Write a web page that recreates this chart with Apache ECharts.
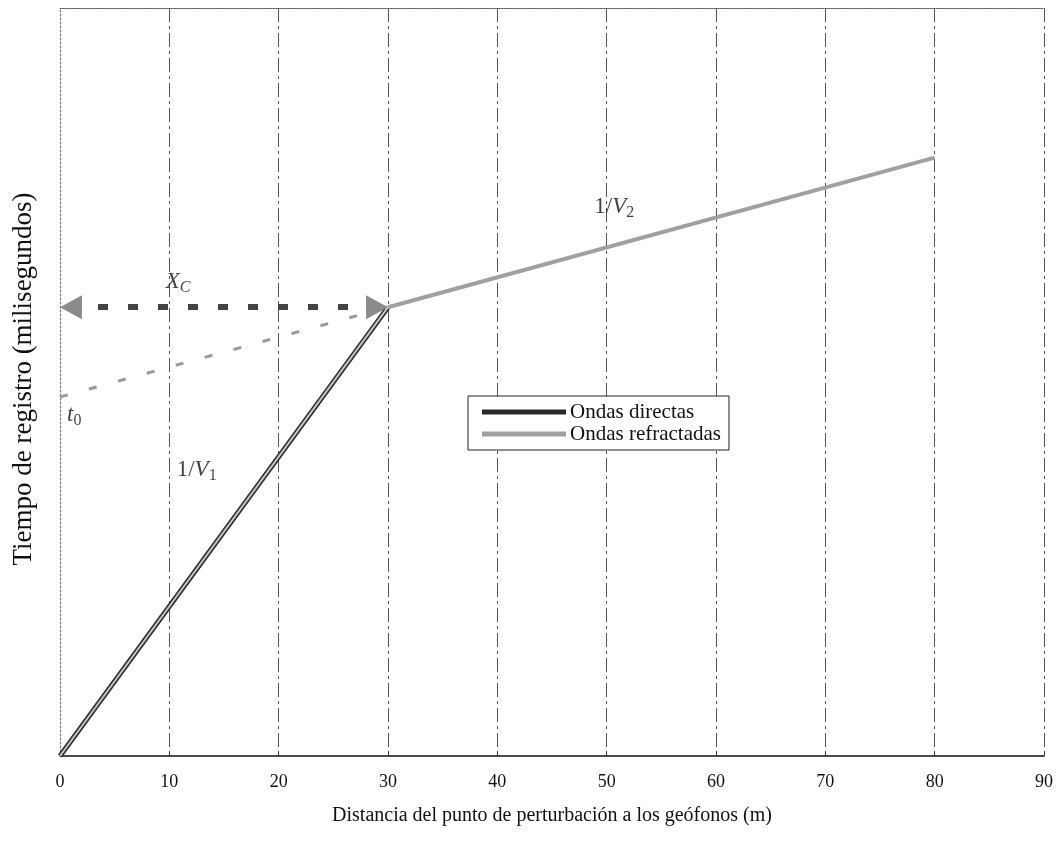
<!DOCTYPE html>
<html>
<head>
<meta charset="utf-8">
<script src="https://cdn.jsdelivr.net/npm/echarts@6/dist/echarts.min.js"></script>
<style>
  html, body { margin: 0; padding: 0; background: #fff; }
  #chart { width: 1056px; height: 849px; }
</style>
</head>
<body>
<div id="chart"></div>
<script>
// Travel-time curve for seismic refraction: direct and refracted arrivals
const xTicks = [0, 10, 20, 30, 40, 50, 60, 70, 80, 90];

// Direct wave: t = x / V1
const directX = [0, 30];
const directT = [0, 60];

// Refracted (head) wave beyond the crossover distance
const refractedX = [30, 80];
const refractedT = [60, 80];

// Back-extension of the refracted branch to the intercept time t0
const interceptX = [0, 30];
const interceptT = [48, 60];

// Crossover distance Xc marked at the crossover time
const crossoverX = [0, 30];
const crossoverT = 60;

// Annotation labels: [x, t, kind]
const annotations = [
  [10.8, 63.4, 'xc'],
  [1.3, 45.6, 't0'],
  [12.5, 38.3, 'v1'],
  [50.7, 73.4, 'v2']
];

const serif = '"Liberation Serif", "DejaVu Serif", serif';

const labelText = {
  xc: '{it|X}{subit|C}',
  t0: '{it|t}{sub|0}',
  v1: '{n|1/}{it|V}{sub|1}',
  v2: '{n|1/}{it|V}{sub|2}'
};

// Arrowheads are centred this far (in metres) inside the Xc span so their tips touch its ends
const arrowInset = 1.0;

const chart = echarts.init(document.getElementById('chart'), null, { renderer: 'canvas' });

const pairs = (xs, ys) => xs.map((x, i) => [x, ys[i]]);

chart.setOption({
  animation: false,
  backgroundColor: '#ffffff',
  grid: { left: 60, right: 11, top: 8, bottom: 93 },
  xAxis: [{
    type: 'value',
    min: xTicks[0],
    max: xTicks[xTicks.length - 1],
    interval: 10,
    name: 'Distancia del punto de perturbación a los geófonos (m)',
    nameLocation: 'middle',
    nameGap: 50,
    nameTextStyle: { fontFamily: serif, fontSize: 20, color: '#111' },
    axisLine: { show: true, lineStyle: { color: '#111', width: 1.5 } },
    axisTick: { show: true, length: 5, inside: true, lineStyle: { color: '#333' } },
    axisLabel: { fontFamily: serif, fontSize: 18, color: '#111', margin: 17 },
    splitLine: {
      show: true,
      showMinLine: false,
      lineStyle: { color: '#555', width: 1, type: [14, 4, 3, 4] }
    }
  }, {
    type: 'value',
    position: 'top',
    min: 0, max: 90,
    axisLine: { show: true, lineStyle: { color: '#666', width: 1.2, type: [2, 1] } },
    axisTick: { show: false },
    axisLabel: { show: false },
    splitLine: { show: false }
  }],
  yAxis: {
    type: 'value',
    min: 0,
    max: 100,
    axisLine: { show: true, lineStyle: { color: '#777', width: 1.2, type: [2, 2] } },
    axisTick: { show: false },
    axisLabel: { show: false },
    splitLine: { show: false }
  },
  legend: {
    left: 468,
    top: 396,
    orient: 'vertical',
    data: [
      { name: 'Ondas directas', icon: 'rect' },
      { name: 'Ondas refractadas', icon: 'rect' }
    ],
    backgroundColor: '#fff',
    borderColor: '#222',
    borderWidth: 1,
    borderRadius: 0,
    padding: [5, 8, 5, 14],
    itemGap: 0,
    itemWidth: 84,
    itemHeight: 5,
    textStyle: { fontFamily: serif, fontSize: 21, color: '#111', lineHeight: 22, padding: [0, 0, 0, -1] }
  },
  series: [
    {
      name: 'Ondas refractadas (t0)',
      type: 'line',
      data: pairs(interceptX, interceptT),
      symbol: 'none',
      lineStyle: { color: '#9a9a9a', width: 3, type: [8, 22] },
      z: 2
    },
    {
      name: 'Xc',
      type: 'line',
      data: [],
      markLine: {
        silent: true,
        symbol: ['none', 'none'],
        label: { show: false },
        data: [
          [
            { coord: [crossoverX[0], crossoverT] },
            { coord: [crossoverX[1], crossoverT] }
          ].map(p => Object.assign(p, {
            lineStyle: { color: '#444', width: 6, type: [10, 20], dashOffset: -8 }
          })),
          [
            { coord: [crossoverX[0] + arrowInset, crossoverT], symbol: 'triangle', symbolSize: [24, 22] },
            { coord: [crossoverX[1] - arrowInset, crossoverT], symbol: 'triangle', symbolSize: [24, 22] }
          ].map(p => Object.assign(p, {
            lineStyle: { color: '#8a8a8a', width: 0 }
          }))
        ]
      },
      z: 3
    },
    {
      name: 'Ondas directas',
      type: 'line',
      data: pairs(directX, directT),
      symbol: 'none',
      color: '#2a2a2a',
      lineStyle: { color: '#2a2a2a', width: 5 },
      z: 4
    },
    {
      name: 'directas-core',
      type: 'line',
      data: pairs(directX, directT),
      symbol: 'none',
      lineStyle: { color: '#c4c4c4', width: 2 },
      z: 5
    },
    {
      name: 'Ondas refractadas',
      type: 'line',
      data: pairs(refractedX, refractedT),
      symbol: 'none',
      color: '#a0a0a0',
      lineStyle: { color: '#a0a0a0', width: 4 },
      z: 4
    },
    {
      name: 'labels',
      type: 'scatter',
      data: annotations,
      symbolSize: 0,
      silent: true,
      label: {
        show: true,
        position: 'inside',
        formatter: p => labelText[p.data[2]],
        rich: {
          n: { fontFamily: serif, fontSize: 23, color: '#111' },
          it: { fontFamily: serif, fontSize: 23, fontStyle: 'italic', color: '#111' },
          sub: { fontFamily: serif, fontSize: 16, color: '#111', verticalAlign: 'bottom', padding: [12, 0, 0, 0] },
          subit: { fontFamily: serif, fontSize: 16, fontStyle: 'italic', color: '#111', verticalAlign: 'bottom', padding: [12, 0, 0, 0] }
        }
      },
      z: 6
    }
  ],
  graphic: [{
    // Vertical axis title, reading bottom to top
    type: 'text',
    x: 24,
    y: 379,
    rotation: Math.PI / 2,
    style: {
      text: 'Tiempo de registro (milisegundos)',
      fontFamily: serif,
      fontSize: 27,
      fill: '#111',
      align: 'center',
      verticalAlign: 'middle'
    }
  }]
});
</script>
</body>
</html>
